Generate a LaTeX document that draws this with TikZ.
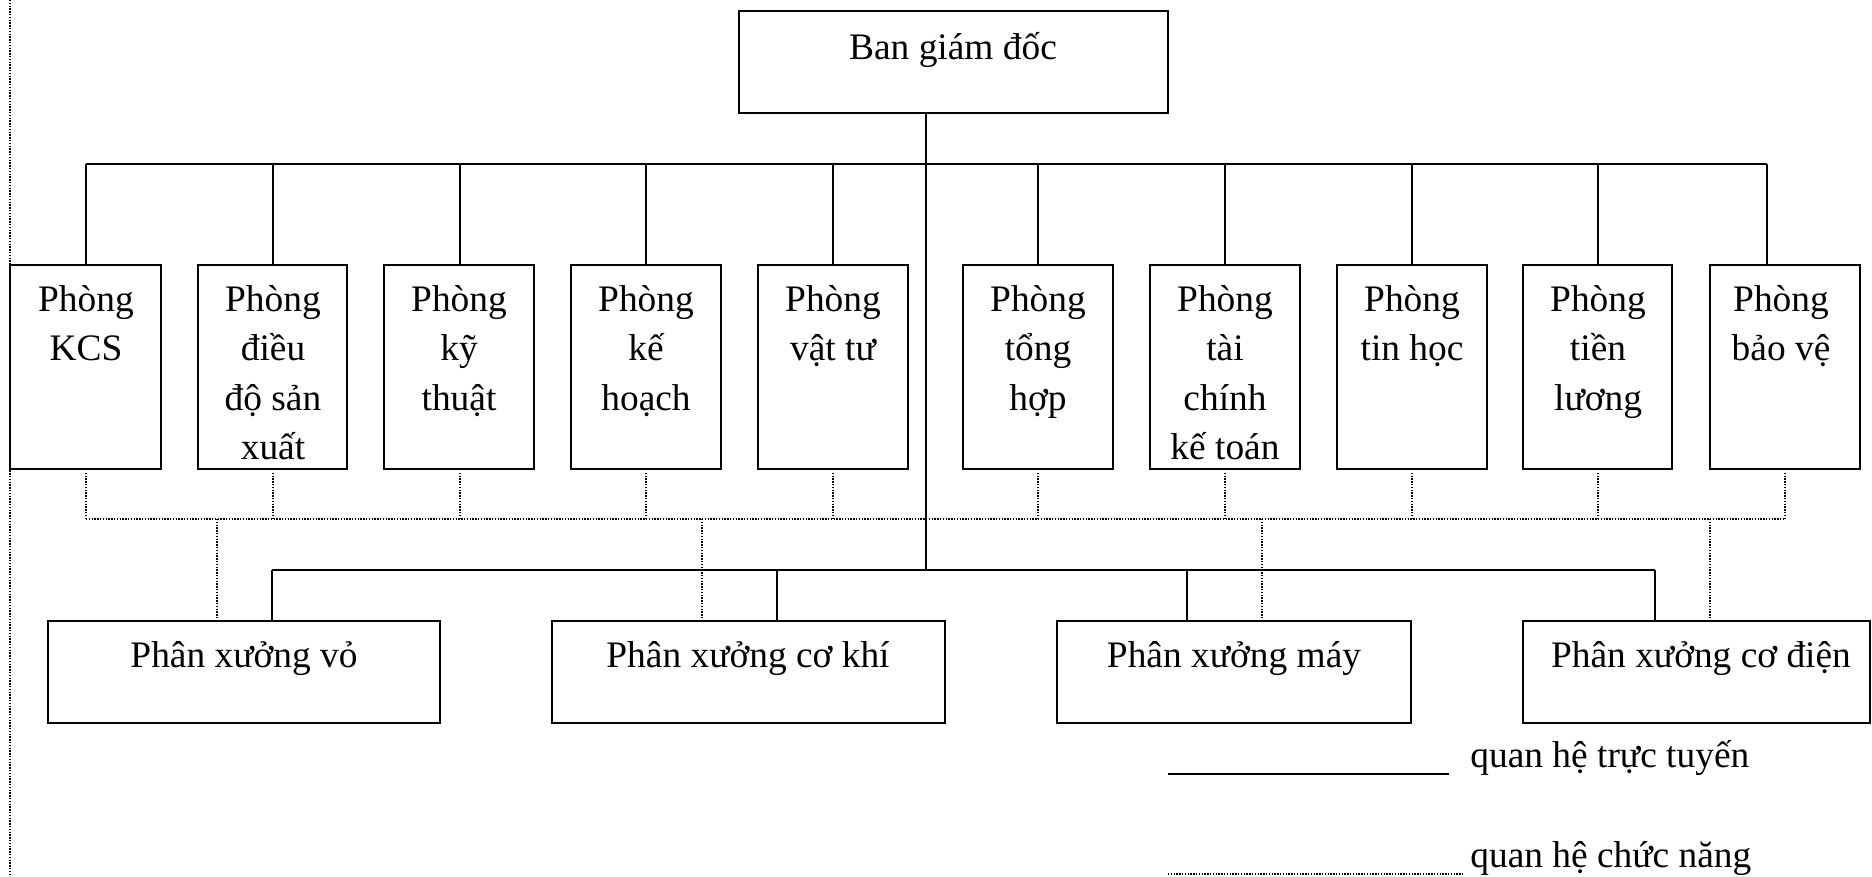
\documentclass[tikz,border=0pt]{standalone}
\usepackage{fontspec}
\setmainfont{Liberation Serif}
\usetikzlibrary{fit}
\newcommand\boxtext[1]{\parbox[t]{74pt}{\centering #1}}
\begin{document}
\begin{tikzpicture}[x=0.5pt,y=-0.5pt,
  box/.style={draw, line width=0.8pt, inner sep=0pt},
  lbl/.style={inner sep=0pt, anchor=base, font=\fontsize{18.7}{24.8}\selectfont},
  legendlbl/.style={inner sep=0pt, anchor=base west, font=\fontsize{18.7}{24.5}\selectfont},
  solidline/.style={line width=0.8pt},
  dotline/.style={line width=0.7pt, dash pattern=on 0.7pt off 0.7pt}]
\useasboundingbox (0,0) rectangle (1872,877);

% left dotted margin line
\coordinate (mtop) at (10,0);
\coordinate (mbot) at (10,875);
\draw[dotline] (mtop) -- (mbot);

% top box
\node[box, fit={(739,11) (1168,113)}] (ban) {};
\node[lbl] (bant) at (953,60) {Ban giám đốc};

% department boxes
\foreach \n/\l/\r in {1/10/161,2/198/347,3/384/534,4/571/721,5/758/908,
                      6/963/1113,7/1150/1300,8/1337/1487,9/1523/1672,10/1710/1860}
  \node[box, fit={(\l,265) (\r,469)}] (p\n) {};

\node[lbl] (p1t) at (86,311) {\boxtext{Phòng\\KCS}};
\node[lbl] (p2t) at (273,311) {\boxtext{Phòng\\điều\\độ sản\\xuất}};
\node[lbl] (p3t) at (459,311) {\boxtext{Phòng\\kỹ\\thuật}};
\node[lbl] (p4t) at (646,311) {\boxtext{Phòng\\kế\\hoạch}};
\node[lbl] (p5t) at (833,311) {\boxtext{Phòng\\vật tư}};
\node[lbl] (p6t) at (1038,311) {\boxtext{Phòng\\tổng\\hợp}};
\node[lbl] (p7t) at (1225,311) {\boxtext{Phòng\\tài\\chính\\kế toán}};
\node[lbl] (p8t) at (1412,311) {\boxtext{Phòng\\tin học}};
\node[lbl] (p9t) at (1598,311) {\boxtext{Phòng\\tiền\\lương}};
\node[lbl] (p10t) at (1781,311) {\boxtext{Phòng\\bảo vệ}};

% workshop boxes
\node[box, fit={(48,621) (440,723)}] (w1) {};
\node[box, fit={(552,621) (945,723)}] (w2) {};
\node[box, fit={(1057,621) (1411,723)}] (w3) {};
\node[box, fit={(1523,621) (1870,723)}] (w4) {};
\node[lbl] (w1t) at (244,667) {Phân xưởng vỏ};
\node[lbl] (w2t) at (748,667) {Phân xưởng cơ khí};
\node[lbl] (w3t) at (1234,667) {Phân xưởng máy};
\node[lbl] (w4t) at (1701,667) {Phân xưởng cơ điện};

% solid (line) relations
\coordinate (topbusL) at (86,164);
\coordinate (topbusR) at (1767,164);
\coordinate (mainjoin) at (926,164);
\coordinate (lowjoin) at (926,570);
\coordinate (lowbusL) at (272,570);
\coordinate (lowbusR) at (1655,570);
\draw[solidline] (mainjoin |- ban.south) -- (lowjoin);
\draw[solidline] (topbusL) -- (topbusR);
\foreach \n/\x in {1/86,2/273,3/460,4/646,5/833,6/1038,7/1225,8/1412,9/1598,10/1767}
  \draw[solidline] (\x,164) -- (\x,265 |- p\n.north);
\draw[solidline] (lowbusL) -- (lowbusR);
\foreach \n/\x in {1/272,2/777,3/1187,4/1655}
  \draw[solidline] (\x,570) -- (\x,621 |- w\n.north);

% dotted (functional) relations
\coordinate (dbusL) at (86,519);
\coordinate (dbusR) at (1785,519);
\draw[dotline] (dbusL) -- (dbusR);
\foreach \n/\x in {1/86,2/273,3/460,4/646,5/833,6/1038,7/1225,8/1412,9/1598,10/1785}
  \draw[dotline] (\x,472 |- p\n.south) ++(0,3) -- (\x,519);
\foreach \n/\x in {1/217,2/702,3/1262,4/1710}
  \draw[dotline] (\x,519) -- (\x,618 |- w\n.north);

% legend
\coordinate (lg1a) at (1168,774);
\coordinate (lg1b) at (1449,774);
\coordinate (lg2a) at (1168,874);
\coordinate (lg2b) at (1464,874);
\draw[solidline] (lg1a) -- (lg1b);
\draw[dotline] (lg2a) -- (lg2b);
\node[legendlbl] (lg1t) at (1470,767) {quan hệ trực tuyến};
\node[legendlbl] (lg2t) at (1470,867) {quan hệ chức năng};
\end{tikzpicture}
\end{document}
